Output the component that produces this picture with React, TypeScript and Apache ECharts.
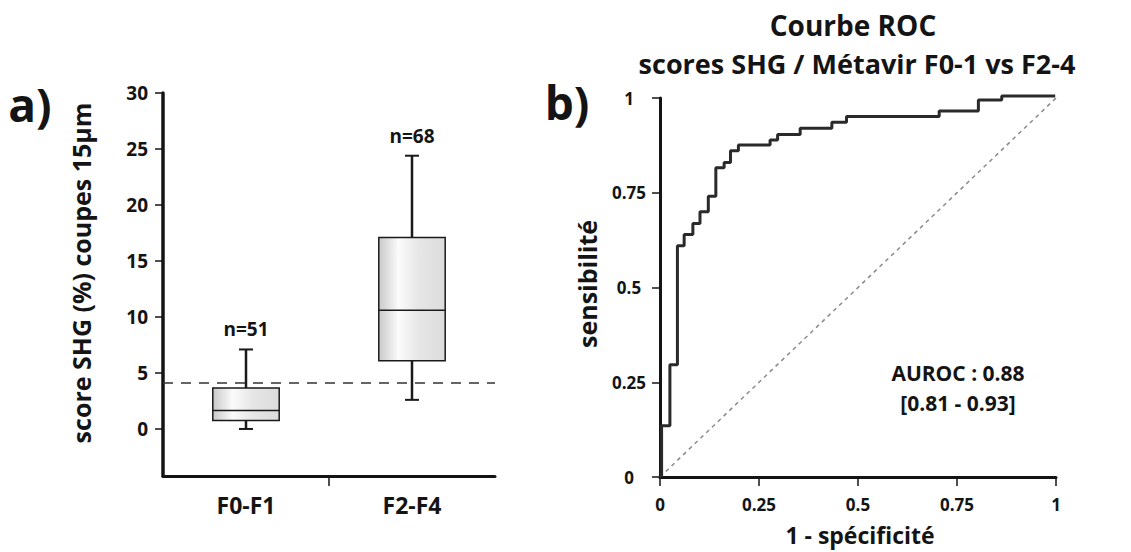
import React, { useEffect, useRef } from "react";
import * as echarts from "echarts";

// ---- Data ----
const categories = ["F0-F1", "F2-F4"];
const whiskerLow = [0.0, 2.6];
const q1 = [0.75, 6.1];
const median = [1.65, 10.6];
const q3 = [3.65, 17.1];
const whiskerHigh = [7.1, 24.4];
const groupN = [51, 68];
const cutoff = 4.1;
const boxTicks = [0, 5, 10, 15, 20, 25, 30];

// ROC: x where sensitivity steps up, and the level reached
const rocFpr = [0.004, 0.025, 0.044, 0.061, 0.083, 0.101, 0.122, 0.141, 0.162, 0.178, 0.198, 0.278, 0.297, 0.354, 0.434, 0.471, 0.705, 0.804, 0.863];
const rocTpr = [0.135, 0.296, 0.61, 0.64, 0.669, 0.70, 0.741, 0.816, 0.830, 0.861, 0.876, 0.889, 0.904, 0.920, 0.936, 0.951, 0.966, 0.995, 1.005];
const rocEnd = 0.998;
const diagonal = [[0, 0], [1, 1]];
const aurocText = "AUROC : 0.88";
const ciText = "[0.81 - 0.93]";

const FONT = "Open Sans";
const INK = "#141414";

export default function App() {
  const ref = useRef<HTMLDivElement>(null);
  useEffect(() => {
    if (!ref.current) return;
    const chart = echarts.init(ref.current, undefined, { renderer: "svg" });

    const rocPts: number[][] = [[rocFpr[0], 0]];
    rocFpr.forEach((x, i) => {
      rocPts.push([x, rocTpr[i]]);
      const nx = i + 1 < rocFpr.length ? rocFpr[i + 1] : rocEnd;
      rocPts.push([nx, rocTpr[i]]);
    });

    const boxData = categories.map((c, i) => [i + 0.5, whiskerLow[i], q1[i], median[i], q3[i], whiskerHigh[i], groupN[i]]);

    const txt = (text: string, x: number, y: number, size: number, rotation = 0, weight: any = "bold") => ({
      type: "text",
      x,
      y,
      rotation,
      style: {
        text,
        fontFamily: FONT,
        fontWeight: weight,
        fontSize: size,
        fill: INK,
        align: "center",
        verticalAlign: "middle",
      },
    });

    const option: any = {
      animation: false,
      backgroundColor: "#ffffff",
      grid: [
        { left: 163, top: 93, width: 332, height: 383 },
        { left: 660, top: 98, width: 396, height: 379 },
      ],
      xAxis: [
        {
          gridIndex: 0,
          type: "value",
          min: 0,
          max: 2,
          splitLine: { show: false },
          axisLine: { onZero: false, lineStyle: { color: INK, width: 3 } },
          axisTick: { customValues: [1], length: 10, lineStyle: { color: INK, width: 1.5 } },
          axisLabel: {
            customValues: [0.5, 1.5],
            formatter: (v: number) => categories[Math.round(v - 0.5)],
            fontFamily: FONT,
            fontWeight: "bold",
            fontSize: 23,
            color: INK,
            margin: 17,
          },
        },
        {
          gridIndex: 1,
          type: "value",
          min: 0,
          max: 1,
          interval: 0.25,
          splitLine: { show: false },
          axisLine: { onZero: false, lineStyle: { color: INK, width: 3 } },
          axisTick: { length: 9, lineStyle: { color: INK, width: 1.5 } },
          axisLabel: {
            formatter: (v: number) => String(v),
            fontFamily: FONT,
            fontWeight: "bold",
            fontSize: 17,
            color: INK,
            margin: 19,
          },
        },
      ],
      yAxis: [
        {
          gridIndex: 0,
          type: "value",
          min: -4.2,
          max: 30,
          splitLine: { show: false },
          axisLine: { onZero: false, lineStyle: { color: INK, width: 3.5 } },
          axisTick: { customValues: boxTicks, length: 8, lineStyle: { color: INK, width: 1.5 } },
          axisLabel: {
            customValues: boxTicks,
            fontFamily: FONT,
            fontWeight: "bold",
            fontSize: 19,
            color: INK,
            margin: 15,
          },
        },
        {
          gridIndex: 1,
          type: "value",
          min: 0,
          max: 1,
          interval: 0.25,
          splitLine: { show: false },
          axisLine: { onZero: false, lineStyle: { color: INK, width: 3 } },
          axisTick: { length: 8, lineStyle: { color: INK, width: 1.5 } },
          axisLabel: {
            formatter: (v: number) => String(v),
            fontFamily: FONT,
            fontWeight: "bold",
            fontSize: 17,
            color: INK,
            align: "center",
            margin: 31,
          },
        },
      ],
      series: [
        {
          type: "line",
          xAxisIndex: 0,
          yAxisIndex: 0,
          data: [[0, cutoff], [2, cutoff]],
          symbol: "none",
          z: 1,
          lineStyle: { color: "#333", width: 1.5, type: [10, 8] },
        },
        {
          type: "custom",
          xAxisIndex: 0,
          yAxisIndex: 0,
          z: 3,
          data: boxData,
          renderItem: (params: any, api: any) => {
            const xv = api.value(0);
            const lo = api.coord([xv, api.value(1)]);
            const b1 = api.coord([xv, api.value(2)]);
            const md = api.coord([xv, api.value(3)]);
            const b3 = api.coord([xv, api.value(4)]);
            const hi = api.coord([xv, api.value(5)]);
            const n = api.value(6);
            const w = api.size([1, 0])[0] * 0.4;
            const cx = md[0];
            const cap = 7;
            const line = (x1: number, y1: number, x2: number, y2: number, lw: number) => ({
              type: "line",
              shape: { x1, y1, x2, y2 },
              style: { stroke: "#1a1a1a", lineWidth: lw },
            });
            return {
              type: "group",
              children: [
                line(cx, b1[1], cx, lo[1], 2.5),
                line(cx, b3[1], cx, hi[1], 2.5),
                line(cx - cap, lo[1], cx + cap, lo[1], 2),
                line(cx - cap, hi[1], cx + cap, hi[1], 2),
                {
                  type: "rect",
                  shape: { x: cx - w / 2, y: b3[1], width: w, height: b1[1] - b3[1] },
                  style: {
                    fill: new echarts.graphic.LinearGradient(0, 0, 1, 0, [
                      { offset: 0, color: "#c9c9c9" },
                      { offset: 0.3, color: "#fbfbfb" },
                      { offset: 0.6, color: "#e6e6e6" },
                      { offset: 1, color: "#dcdcdc" },
                    ]),
                    stroke: "#1a1a1a",
                    lineWidth: 1.5,
                  },
                },
                line(cx - w / 2, md[1], cx + w / 2, md[1], 1.5),
                {
                  type: "text",
                  x: cx,
                  y: hi[1] - 20,
                  style: {
                    text: "n=" + n,
                    fontFamily: FONT,
                    fontWeight: "bold",
                    fontSize: 19,
                    fill: INK,
                    align: "center",
                    verticalAlign: "middle",
                  },
                },
              ],
            };
          },
        },
        {
          type: "line",
          xAxisIndex: 1,
          yAxisIndex: 1,
          data: diagonal,
          symbol: "none",
          z: 1,
          lineStyle: { color: "#8a8a8a", width: 1.5, type: [4, 4] },
        },
        {
          type: "line",
          xAxisIndex: 1,
          yAxisIndex: 1,
          data: rocPts,
          symbol: "none",
          clip: false,
          z: 3,
          lineStyle: { color: "#2a2a2a", width: 3 },
        },
      ],
      graphic: [
        txt("a)", 30, 104, 46),
        txt("b)", 567, 102, 46),
        txt("score SHG (%) coupes 15µm", 81, 273, 25, Math.PI / 2),
        txt("Courbe ROC", 853, 25, 28),
        txt("scores SHG / Métavir F0-1 vs F2-4", 857, 63, 27),
        txt(aurocText, 958, 373, 21),
        txt(ciText, 958, 403, 21),
        txt("1 - spécificité", 860, 535, 23),
        txt("sensibilité", 587, 284, 25, Math.PI / 2),
      ],
    };

    chart.setOption(option);
    return () => chart.dispose();
  }, []);

  return (
    <div
      ref={ref}
      style={{ position: "absolute", left: 0, top: 0, width: 1131, height: 552, background: "#fff" }}
    />
  );
}
